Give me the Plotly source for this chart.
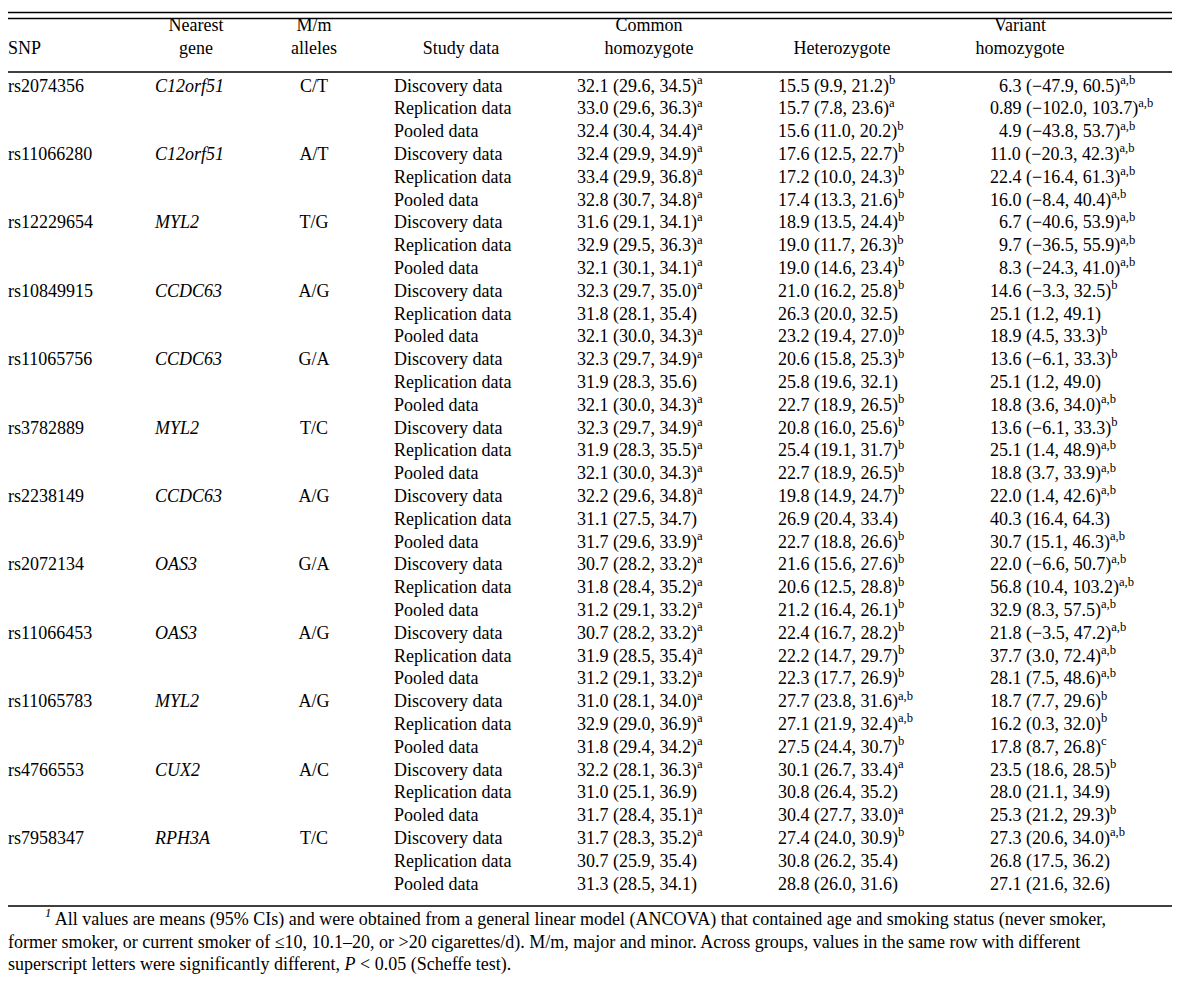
import plotly.graph_objects as go

# table content
snps = ["rs2074356", "rs11066280", "rs12229654", "rs10849915", "rs11065756", "rs3782889",
        "rs2238149", "rs2072134", "rs11066453", "rs11065783", "rs4766553", "rs7958347"]
genes = ["C12orf51", "C12orf51", "MYL2", "CCDC63", "CCDC63", "MYL2",
         "CCDC63", "OAS3", "OAS3", "MYL2", "CUX2", "RPH3A"]
alleles = ["C/T", "A/T", "T/G", "A/G", "G/A", "T/C", "A/G", "G/A", "A/G", "A/G", "A/C", "T/C"]
study = ["Discovery data", "Replication data", "Pooled data"]

common = [
    "32.1 (29.6, 34.5)", "33.0 (29.6, 36.3)", "32.4 (30.4, 34.4)",
    "32.4 (29.9, 34.9)", "33.4 (29.9, 36.8)", "32.8 (30.7, 34.8)",
    "31.6 (29.1, 34.1)", "32.9 (29.5, 36.3)", "32.1 (30.1, 34.1)",
    "32.3 (29.7, 35.0)", "31.8 (28.1, 35.4)", "32.1 (30.0, 34.3)",
    "32.3 (29.7, 34.9)", "31.9 (28.3, 35.6)", "32.1 (30.0, 34.3)",
    "32.3 (29.7, 34.9)", "31.9 (28.3, 35.5)", "32.1 (30.0, 34.3)",
    "32.2 (29.6, 34.8)", "31.1 (27.5, 34.7)", "31.7 (29.6, 33.9)",
    "30.7 (28.2, 33.2)", "31.8 (28.4, 35.2)", "31.2 (29.1, 33.2)",
    "30.7 (28.2, 33.2)", "31.9 (28.5, 35.4)", "31.2 (29.1, 33.2)",
    "31.0 (28.1, 34.0)", "32.9 (29.0, 36.9)", "31.8 (29.4, 34.2)",
    "32.2 (28.1, 36.3)", "31.0 (25.1, 36.9)", "31.7 (28.4, 35.1)",
    "31.7 (28.3, 35.2)", "30.7 (25.9, 35.4)", "31.3 (28.5, 34.1)",
]
common_sup = ["a", "a", "a", "a", "a", "a", "a", "a", "a",
              "a", "", "a", "a", "", "a", "a", "a", "a",
              "a", "", "a", "a", "a", "a", "a", "a", "a",
              "a", "a", "a", "a", "", "a", "a", "", ""]

hetero = [
    "15.5 (9.9, 21.2)", "15.7 (7.8, 23.6)", "15.6 (11.0, 20.2)",
    "17.6 (12.5, 22.7)", "17.2 (10.0, 24.3)", "17.4 (13.3, 21.6)",
    "18.9 (13.5, 24.4)", "19.0 (11.7, 26.3)", "19.0 (14.6, 23.4)",
    "21.0 (16.2, 25.8)", "26.3 (20.0, 32.5)", "23.2 (19.4, 27.0)",
    "20.6 (15.8, 25.3)", "25.8 (19.6, 32.1)", "22.7 (18.9, 26.5)",
    "20.8 (16.0, 25.6)", "25.4 (19.1, 31.7)", "22.7 (18.9, 26.5)",
    "19.8 (14.9, 24.7)", "26.9 (20.4, 33.4)", "22.7 (18.8, 26.6)",
    "21.6 (15.6, 27.6)", "20.6 (12.5, 28.8)", "21.2 (16.4, 26.1)",
    "22.4 (16.7, 28.2)", "22.2 (14.7, 29.7)", "22.3 (17.7, 26.9)",
    "27.7 (23.8, 31.6)", "27.1 (21.9, 32.4)", "27.5 (24.4, 30.7)",
    "30.1 (26.7, 33.4)", "30.8 (26.4, 35.2)", "30.4 (27.7, 33.0)",
    "27.4 (24.0, 30.9)", "30.8 (26.2, 35.4)", "28.8 (26.0, 31.6)",
]
hetero_sup = ["b", "a", "b", "b", "b", "b", "b", "b", "b",
              "b", "", "b", "b", "", "b", "b", "b", "b",
              "b", "", "b", "b", "b", "b", "b", "b", "b",
              "a,b", "a,b", "b", "a", "", "a", "b", "", ""]

variant = [
    "6.3 (−47.9, 60.5)", "0.89 (−102.0, 103.7)", "4.9 (−43.8, 53.7)",
    "11.0 (−20.3, 42.3)", "22.4 (−16.4, 61.3)", "16.0 (−8.4, 40.4)",
    "6.7 (−40.6, 53.9)", "9.7 (−36.5, 55.9)", "8.3 (−24.3, 41.0)",
    "14.6 (−3.3, 32.5)", "25.1 (1.2, 49.1)", "18.9 (4.5, 33.3)",
    "13.6 (−6.1, 33.3)", "25.1 (1.2, 49.0)", "18.8 (3.6, 34.0)",
    "13.6 (−6.1, 33.3)", "25.1 (1.4, 48.9)", "18.8 (3.7, 33.9)",
    "22.0 (1.4, 42.6)", "40.3 (16.4, 64.3)", "30.7 (15.1, 46.3)",
    "22.0 (−6.6, 50.7)", "56.8 (10.4, 103.2)", "32.9 (8.3, 57.5)",
    "21.8 (−3.5, 47.2)", "37.7 (3.0, 72.4)", "28.1 (7.5, 48.6)",
    "18.7 (7.7, 29.6)", "16.2 (0.3, 32.0)", "17.8 (8.7, 26.8)",
    "23.5 (18.6, 28.5)", "28.0 (21.1, 34.9)", "25.3 (21.2, 29.3)",
    "27.3 (20.6, 34.0)", "26.8 (17.5, 36.2)", "27.1 (21.6, 32.6)",
]
variant_sup = ["a,b", "a,b", "a,b", "a,b", "a,b", "a,b", "a,b", "a,b", "a,b",
               "b", "", "b", "b", "", "a,b", "b", "a,b", "a,b",
               "a,b", "", "a,b", "a,b", "a,b", "a,b", "a,b", "a,b", "a,b",
               "b", "b", "c", "b", "", "b", "a,b", "", ""]

footnote = [
    "<i><sup>1</sup></i> All values are means (95% CIs) and were obtained from a general linear model "
    "(ANCOVA) that contained age and smoking status (never smoker,",
    "former smoker, or current smoker of ≤10, 10.1–20, or &gt;20 cigarettes/d). M/m, major and minor. "
    "Across groups, values in the same row with different",
    "superscript letters were significantly different, <i>P</i> &lt; 0.05 (Scheffe test).",
]

# layout helpers (pixel grid)
W, H = 1180, 990
FONT = dict(family="Liberation Serif, Times New Roman, serif", size=18, color="black")
row0, dy = 79, 22.8
right_edge = 1165
# variant column in the first block was set with a leading digit space
var_indent = [1, 0, 1, 0, 0, 0, 1, 1, 1] + [0] * 27

n = len(common)
row_y = [row0 + i * dy for i in range(n)]
block_y = [row0 + 3 * i * dy for i in range(len(snps))]


def fmt(vals, sups):
    return [v + (f"<sup>{s}</sup>" if s else "") for v, s in zip(vals, sups)]


def text_trace(xs, ys, texts, pos):
    return go.Scatter(x=xs, y=ys, text=texts, mode="text", textposition=pos,
                      textfont=FONT, hoverinfo="skip", showlegend=False, cliponaxis=False)


fig = go.Figure()

# header
hdr_top = ["Nearest", "M/m", "Common", "Variant"]
hdr_top_x = [188, 306, 641, 1012]
hdr_bot = ["gene", "alleles", "Study data", "homozygote", "Heterozygote", "homozygote"]
hdr_bot_x = [188, 306, 453, 641, 834, 1012]
fig.add_trace(text_trace(hdr_top_x, [18] * len(hdr_top), hdr_top, "middle center"))
fig.add_trace(text_trace(hdr_bot_x, [41] * len(hdr_bot), hdr_bot, "middle center"))
fig.add_trace(text_trace([0], [41], ["SNP"], "middle right"))

# body
fig.add_trace(text_trace([0] * len(snps), block_y, snps, "middle right"))
fig.add_trace(text_trace([147] * len(genes), block_y, [f"<i>{g}</i>" for g in genes], "middle right"))
fig.add_trace(text_trace([306] * len(alleles), block_y, alleles, "middle center"))
fig.add_trace(text_trace([386] * n, row_y, study * len(snps), "middle right"))
fig.add_trace(text_trace([569] * n, row_y, fmt(common, common_sup), "middle right"))
fig.add_trace(text_trace([770] * n, row_y, fmt(hetero, hetero_sup), "middle right"))
fig.add_trace(text_trace([982 + 9 * k for k in var_indent], row_y, fmt(variant, variant_sup), "middle right"))

# footnote
fig.add_trace(text_trace([37, 0, 0], [912, 935, 957], footnote, "middle right"))

# rules
rule = dict(type="line", xref="x", yref="y", x0=0, x1=right_edge, line=dict(color="black", width=1.3))
for yy in [4.5, 10.5, 64, 898]:
    fig.add_shape(**rule, y0=yy, y1=yy)

fig.update_xaxes(range=[0, W], visible=False, fixedrange=True)
fig.update_yaxes(range=[H, 0], visible=False, fixedrange=True)
fig.update_layout(width=W, height=H, margin=dict(l=0, r=0, t=0, b=0),
                  plot_bgcolor="white", paper_bgcolor="white")

fig.write_html("out.html")
